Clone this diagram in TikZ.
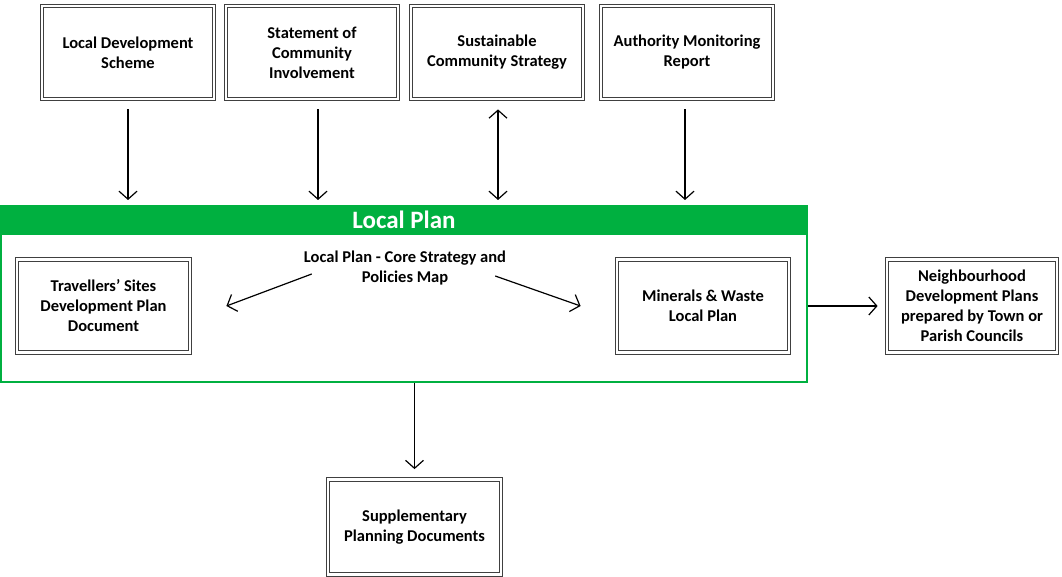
\documentclass[tikz,border=0pt]{standalone}
\usepackage{fontspec}
\setmainfont{Carlito}
\usetikzlibrary{arrows.meta}
\definecolor{lpgreen}{RGB}{0,176,64}
\begin{document}
\begin{tikzpicture}[x=1pt,y=-1pt,
  dbox/.style={draw=black!75,line width=0.8pt,double=white,double distance=2.6pt,
    minimum width=172pt,minimum height=93pt,inner sep=2pt,align=center,
    font=\fontsize{16.5}{20}\selectfont\bfseries},
  arr/.style={line width=1.2pt,-{Straight Barb[length=8pt,width=18pt,line width=1.2pt]}},
  darr/.style={line width=1.2pt,{Straight Barb[length=8pt,width=18pt,line width=1.2pt]}-{Straight Barb[length=8pt,width=18pt,line width=1.2pt]}}]
\useasboundingbox (0,0) rectangle (1062,577);
% top boxes
\node[dbox] (lds) at (128,52.5) {Local Development\\Scheme};
\node[dbox] (sci) at (312,52.5) {Statement of\\Community\\Involvement};
\node[dbox] (scs) at (497,52.5) {Sustainable\\Community Strategy};
\node[dbox] (amr) at (687,52.5) {Authority Monitoring\\Report};
% local plan frame
\node[draw=lpgreen,line width=2pt,minimum width=806pt,minimum height=176pt,inner sep=0pt] (lp) at (404,294) {};
\node[fill=lpgreen,minimum width=806pt,minimum height=30pt,inner sep=0pt,anchor=north,
  text=white,font=\fontsize{25}{28}\selectfont\bfseries] (lph) at (lp.north) {Local Plan};
\node[align=center,inner sep=1pt,font=\fontsize{16.5}{20}\selectfont\bfseries] (core) at (405,268) {Local Plan - Core Strategy and\\Policies Map};
\node[dbox,minimum width=173pt] (trav) at (103.5,306) {Travellers’ Sites\\Development Plan\\Document};
\node[dbox] (min) at (703,306) {Minerals \& Waste\\Local Plan};
\node[dbox,minimum width=170pt] (ndp) at (972,306) {Neighbourhood\\Development Plans\\prepared by Town or\\Parish Councils};
\node[dbox,minimum width=173pt,minimum height=95pt] (spd) at (414.5,527) {Supplementary\\Planning Documents};
% arrows
\draw[arr] ([yshift=-10pt]lds.south) -- ([yshift=5pt]lds.south |- lp.north);
\draw[arr] ([shift={(6pt,-10pt)}]sci.south) -- ([shift={(6pt,5pt)}]sci.south |- lp.north);
\draw[darr] ([shift={(1pt,-10pt)}]scs.south) -- ([shift={(1pt,5pt)}]scs.south |- lp.north);
\draw[arr] ([shift={(-2pt,-10pt)}]amr.south) -- ([shift={(-2pt,5pt)}]amr.south |- lp.north);
\draw[arr] ([shift={(9pt,-6pt)}]core.west) -- ([xshift=36pt]trav.east);
\draw[arr] ([shift={(-12pt,-8pt)}]core.east) -- ([xshift=-36pt]min.west);
\draw[arr] (lp.east |- min.east) -- ([xshift=-9pt]ndp.west);
\draw[arr] (spd.north |- lp.south) -- ([yshift=10pt]spd.north);
\end{tikzpicture}
\end{document}
